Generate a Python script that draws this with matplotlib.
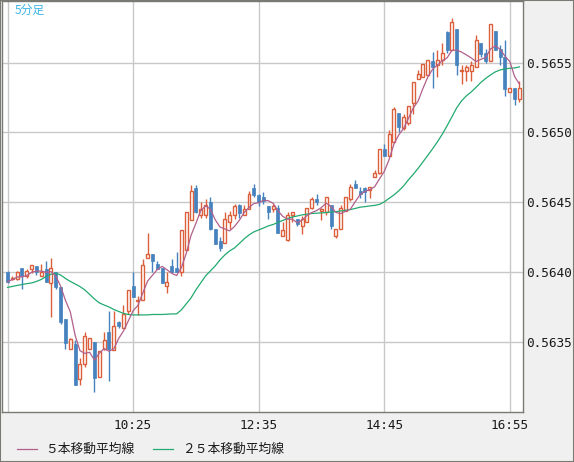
import numpy as np
import pandas as pd
import matplotlib
matplotlib.use("Agg")
import matplotlib.pyplot as plt
from matplotlib.lines import Line2D
from matplotlib.patches import Rectangle

# ============================================
# Data: 5-minute candles, 08:15 - 17:05
# ============================================

start_time = "2024-01-01 08:15"

opens = [0.56400, 0.56395, 0.56395, 0.56403, 0.56397, 0.56402, 0.56404, 0.56397, 0.56402, 0.56392,
         0.56400, 0.56389, 0.56366, 0.56345, 0.56348, 0.56323, 0.56334, 0.56345, 0.56350, 0.56325,
         0.56345, 0.56357, 0.56344, 0.56364, 0.56360, 0.56372, 0.56390, 0.56379, 0.56380, 0.56410,
         0.56413, 0.56406, 0.56403, 0.56390, 0.56404, 0.56403, 0.56400, 0.56416, 0.56437, 0.56460,
         0.56441, 0.56441, 0.56450, 0.56431, 0.56422, 0.56421, 0.56436, 0.56441, 0.56448, 0.56441,
         0.56445, 0.56460, 0.56455, 0.56454, 0.56447, 0.56445, 0.56446, 0.56426, 0.56423, 0.56441,
         0.56438, 0.56433, 0.56436, 0.56446, 0.56452, 0.56444, 0.56443, 0.56448, 0.56426, 0.56431,
         0.56444, 0.56452, 0.56463, 0.56458, 0.56460, 0.56459, 0.56468, 0.56471, 0.56488, 0.56483,
         0.56493, 0.56514, 0.56503, 0.56507, 0.56521, 0.56538, 0.56540, 0.56541, 0.56551, 0.56548,
         0.56552, 0.56572, 0.56559, 0.56574, 0.56544, 0.56544, 0.56544, 0.56547, 0.56564, 0.56557,
         0.56551, 0.56573, 0.56560, 0.56554, 0.56529, 0.56532, 0.56524]

highs = [0.56401, 0.56397, 0.56401, 0.56403, 0.56402, 0.56405, 0.56404, 0.56406, 0.56408, 0.56410,
         0.56400, 0.56389, 0.56366, 0.56353, 0.56351, 0.56338, 0.56357, 0.56353, 0.56350, 0.56343,
         0.56357, 0.56372, 0.56372, 0.56365, 0.56376, 0.56387, 0.56400, 0.56383, 0.56409, 0.56428,
         0.56413, 0.56408, 0.56403, 0.56400, 0.56409, 0.56414, 0.56430, 0.56443, 0.56462, 0.56462,
         0.56450, 0.56452, 0.56454, 0.56431, 0.56425, 0.56443, 0.56444, 0.56449, 0.56449, 0.56448,
         0.56458, 0.56463, 0.56456, 0.56457, 0.56447, 0.56449, 0.56448, 0.56436, 0.56443, 0.56443,
         0.56438, 0.56440, 0.56446, 0.56454, 0.56456, 0.56446, 0.56454, 0.56448, 0.56431, 0.56448,
         0.56454, 0.56463, 0.56466, 0.56461, 0.56461, 0.56461, 0.56473, 0.56488, 0.56492, 0.56502,
         0.56518, 0.56514, 0.56513, 0.56519, 0.56536, 0.56545, 0.56549, 0.56552, 0.56558, 0.56559,
         0.56564, 0.56573, 0.56582, 0.56574, 0.56548, 0.56548, 0.56551, 0.56570, 0.56564, 0.56560,
         0.56578, 0.56573, 0.56563, 0.56566, 0.56532, 0.56532, 0.56537]

lows = [0.56392, 0.56394, 0.56394, 0.56388, 0.56396, 0.56399, 0.56398, 0.56397, 0.56393, 0.56368,
        0.56388, 0.56363, 0.56345, 0.56345, 0.56319, 0.56319, 0.56332, 0.56345, 0.56314, 0.56325,
        0.56344, 0.56322, 0.56344, 0.56360, 0.56360, 0.56370, 0.56382, 0.56369, 0.56380, 0.56410,
        0.56400, 0.56402, 0.56392, 0.56385, 0.56400, 0.56400, 0.56397, 0.56416, 0.56437, 0.56442,
        0.56439, 0.56439, 0.56430, 0.56420, 0.56415, 0.56421, 0.56431, 0.56438, 0.56439, 0.56441,
        0.56445, 0.56454, 0.56447, 0.56449, 0.56438, 0.56443, 0.56428, 0.56426, 0.56422, 0.56436,
        0.56433, 0.56427, 0.56436, 0.56445, 0.56448, 0.56437, 0.56441, 0.56431, 0.56424, 0.56431,
        0.56444, 0.56451, 0.56460, 0.56453, 0.56450, 0.56453, 0.56468, 0.56470, 0.56483, 0.56483,
        0.56493, 0.56500, 0.56502, 0.56505, 0.56513, 0.56538, 0.56540, 0.56541, 0.56532, 0.56540,
        0.56548, 0.56557, 0.56559, 0.56541, 0.56535, 0.56537, 0.56537, 0.56547, 0.56554, 0.56550,
        0.56551, 0.56559, 0.56548, 0.56526, 0.56529, 0.56520, 0.56522]

closes = [0.56393, 0.56396, 0.56400, 0.56397, 0.56401, 0.56405, 0.56400, 0.56400, 0.56393, 0.56403,
          0.56389, 0.56364, 0.56349, 0.56352, 0.56319, 0.56334, 0.56354, 0.56353, 0.56324, 0.56343,
          0.56351, 0.56345, 0.56361, 0.56361, 0.56370, 0.56387, 0.56382, 0.56380, 0.56405, 0.56413,
          0.56408, 0.56402, 0.56392, 0.56393, 0.56400, 0.56400, 0.56430, 0.56443, 0.56458, 0.56443,
          0.56445, 0.56448, 0.56431, 0.56420, 0.56417, 0.56438, 0.56441, 0.56447, 0.56442, 0.56445,
          0.56456, 0.56455, 0.56450, 0.56451, 0.56443, 0.56447, 0.56428, 0.56430, 0.56441, 0.56443,
          0.56434, 0.56438, 0.56446, 0.56452, 0.56450, 0.56445, 0.56454, 0.56433, 0.56431, 0.56446,
          0.56454, 0.56461, 0.56460, 0.56456, 0.56457, 0.56461, 0.56471, 0.56488, 0.56483, 0.56499,
          0.56517, 0.56504, 0.56511, 0.56519, 0.56536, 0.56542, 0.56549, 0.56552, 0.56547, 0.56552,
          0.56557, 0.56559, 0.56579, 0.56548, 0.56545, 0.56547, 0.56548, 0.56566, 0.56556, 0.56551,
          0.56578, 0.56559, 0.56554, 0.56531, 0.56532, 0.56524, 0.56532]

# 25-bar moving average as drawn on the chart (needs bars before the window)
ma25 = [0.563889, 0.563896, 0.563903, 0.563910, 0.563916, 0.563921, 0.563932, 0.563946, 0.563968, 0.563984,
        0.563991, 0.563978, 0.563953, 0.563932, 0.563914, 0.563895, 0.563871, 0.563839, 0.563806, 0.563778,
        0.563763, 0.563749, 0.563731, 0.563717, 0.563703, 0.563695, 0.563692, 0.563692, 0.563692, 0.563692,
        0.563695, 0.563695, 0.563695, 0.563697, 0.563699, 0.563699, 0.563728, 0.563771, 0.563814, 0.563871,
        0.563921, 0.563971, 0.564007, 0.564043, 0.564086, 0.564122, 0.564151, 0.564172, 0.564204, 0.564237,
        0.564265, 0.564287, 0.564301, 0.564315, 0.564330, 0.564340, 0.564355, 0.564369, 0.564383, 0.564394,
        0.564401, 0.564409, 0.564414, 0.564419, 0.564421, 0.564423, 0.564426, 0.564430, 0.564432, 0.564437,
        0.564442, 0.564447, 0.564455, 0.564464, 0.564468, 0.564473, 0.564477, 0.564484, 0.564502, 0.564527,
        0.564552, 0.564581, 0.564616, 0.564660, 0.564699, 0.564742, 0.564788, 0.564835, 0.564882, 0.564932,
        0.564986, 0.565047, 0.565111, 0.565176, 0.565226, 0.565262, 0.565290, 0.565323, 0.565358, 0.565387,
        0.565412, 0.565434, 0.565448, 0.565455, 0.565460, 0.565462, 0.565470]

tick_bars = [0, 26, 52, 78, 104]
y_ticks = [0.5635, 0.5640, 0.5645, 0.5650, 0.5655]

title_text = "5分足"
legend_labels = ["５本移動平均線", "２５本移動平均線"]

# ============================================
# Styling
# ============================================

UP_COLOR = "#dc5f3c"
DOWN_COLOR = "#4682be"
MA5_COLOR = "#b0608c"
MA25_COLOR = "#22aa70"
GRID_COLOR = "#c8c8c8"
PANEL_COLOR = "#f0f0f0"
BORDER_COLOR = "#7a7a74"
MONO = "DejaVu Sans Mono"
CJK = ["Noto Sans CJK JP", "DejaVu Sans"]

W, H = 574, 462


def px(x, y):
    """pixel position (from top-left) -> figure fraction"""
    return x / W, 1 - y / H


o = np.array(opens)
h = np.array(highs)
l = np.array(lows)
c = np.array(closes)
xs = np.arange(len(c))
times = pd.date_range(start_time, periods=len(c), freq="5min")
ma5 = pd.Series(c).rolling(5, min_periods=1).mean().values

fig = plt.figure(figsize=(W / 100, H / 100), dpi=100, facecolor=PANEL_COLOR)
ax = fig.add_axes([2 / W, 50 / H, 521 / W, 411 / H])
ax.set_facecolor("white")

up = c >= o
body_lo = np.minimum(o, c)
body_h = np.abs(c - o)
width = 0.62

ax.vlines(xs[up], l[up], h[up], color=UP_COLOR, lw=1, zorder=2)
ax.vlines(xs[~up], l[~up], h[~up], color=DOWN_COLOR, lw=1, zorder=2)
ax.bar(xs[up], body_h[up], width, bottom=body_lo[up], facecolor="white",
       edgecolor=UP_COLOR, lw=1, zorder=3)
ax.bar(xs[~up], body_h[~up], width, bottom=body_lo[~up], facecolor=DOWN_COLOR,
       edgecolor=DOWN_COLOR, lw=0.5, zorder=3)

ax.plot(xs, ma25, color=MA25_COLOR, lw=0.9, zorder=4)
ax.plot(xs, ma5, color=MA5_COLOR, lw=0.9, zorder=5)

ax.set_xlim(-1.14, 106.73)
ax.set_ylim(0.562996, 0.565942)

ax.set_xticks(tick_bars)
ax.set_xticklabels(["" if i == 0 else times[i].strftime("%H:%M") for i in tick_bars])
ax.set_yticks(y_ticks)
ax.set_yticklabels([f"{v:.4f}" for v in y_ticks])
ax.yaxis.tick_right()
ax.tick_params(axis="both", length=0, labelsize=9.2, labelcolor="#1a1a1a")
ax.tick_params(axis="y", pad=2)
ax.tick_params(axis="x", pad=5)
for lab in ax.get_xticklabels() + ax.get_yticklabels():
    lab.set_fontfamily(MONO)

ax.grid(True, color=GRID_COLOR, lw=1)
ax.set_axisbelow(True)
for side in ax.spines.values():
    side.set_color(BORDER_COLOR)
    side.set_linewidth(1)

# chart caption
fig.text(*px(15, 10), title_text, color="#3cb4e6", fontsize=8.5,
         family=CJK, va="center", ha="left")

# legend row at the bottom
legend_rows = [(16.5, 36.5, 45.5, MA5_COLOR, legend_labels[0]),
               (153, 173, 182, MA25_COLOR, legend_labels[1])]
for x0, x1, xt, col, text in legend_rows:
    (fx0, fy), (fx1, _) = px(x0, 449), px(x1, 449)
    fig.add_artist(Line2D([fx0, fx1], [fy, fy], color=col, lw=0.9,
                          transform=fig.transFigure))
    fig.text(*px(xt, 449), text, color="#1a1a1a", fontsize=9.2,
             family=CJK, va="center", ha="left")

fig.patches.append(Rectangle((0, 0), 1, 1, transform=fig.transFigure, fill=False,
                             edgecolor=BORDER_COLOR, lw=1.5))

fig.savefig("out.png", dpi=100, facecolor=PANEL_COLOR)
